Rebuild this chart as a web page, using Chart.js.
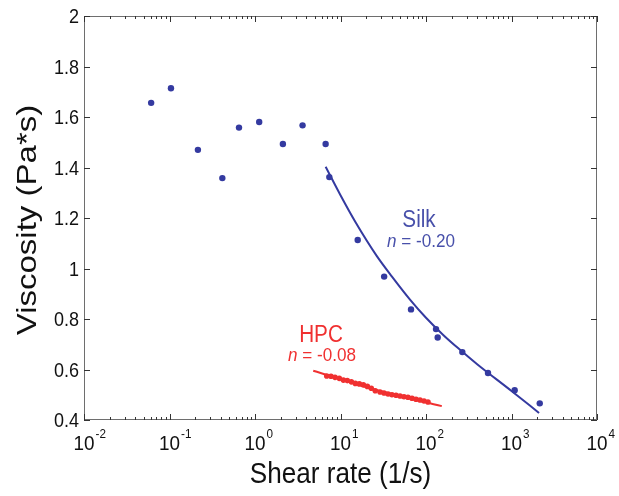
<!DOCTYPE html>
<html>
<head>
<meta charset="utf-8">
<script src="https://cdn.jsdelivr.net/npm/chart.js@4"></script>
<style>
  html, body { margin: 0; padding: 0; background: #fff; }
  #wrap { width: 619px; height: 496px; }
</style>
</head>
<body>
<div id="wrap"><canvas id="c" width="619" height="496"></canvas></div>
<script>
/* viscosity vs shear rate, silk and HPC */

// measured points
const silkRate = [0.061, 0.104, 0.215, 0.415, 0.65, 1.12, 2.12, 3.6, 6.7, 7.4, 15.9, 32.4, 66.8, 131, 137, 266, 531, 1089, 2140];
const silkVisc = [1.656, 1.714, 1.470, 1.358, 1.558, 1.580, 1.493, 1.567, 1.493, 1.362, 1.113, 0.968, 0.838, 0.760, 0.727, 0.669, 0.586, 0.518, 0.466];

const hpcRate = [6.90, 7.74, 8.63, 9.68, 10.8, 12.0, 13.4, 14.9, 16.6, 18.5, 20.6, 22.9, 25.5, 29.0, 32.3, 36.0,
  40.0, 44.6, 49.7, 55.3, 61.5, 68.6, 76.4, 85.1, 94.8, 105.5];
const hpcVisc = [0.574, 0.573, 0.569, 0.565, 0.558, 0.556, 0.551, 0.545, 0.543, 0.539, 0.533, 0.526, 0.516, 0.511, 0.507, 0.503,
  0.500, 0.498, 0.495, 0.492, 0.490, 0.486, 0.482, 0.479, 0.475, 0.471];

// power-law fit curves
const silkFitRate = [6.7, 10, 15, 26.5, 40, 65, 100, 159, 250, 400, 1000, 2100];
const silkFitVisc = [1.403, 1.29, 1.183, 1.050, 0.968, 0.877, 0.805, 0.737, 0.678, 0.620, 0.515, 0.428];
const hpcFitRate = [4.8, 27, 153];
const hpcFitVisc = [0.595, 0.518, 0.455];

// axes
const xTickVals = [0.01, 0.1, 1, 10, 100, 1000, 10000];
const xTickExps = ['-2', '-1', '0', '1', '2', '3', '4'];
const yTickVals = [0.4, 0.6, 0.8, 1, 1.2, 1.4, 1.6, 1.8, 2];
const yTickLabels = ['0.4', '0.6', '0.8', '1', '1.2', '1.4', '1.6', '1.8', '2'];

const BLUE = 'rgb(52, 58, 160)';
const BLUE_TXT = 'rgb(72, 80, 170)';
const RED = 'rgb(240, 48, 48)';
const FONT = '"Liberation Sans", Arial, Helvetica, sans-serif';
const SX = 0.9; // the figure is a bit narrow horizontally

const pts = (xs, ys) => xs.map((x, i) => ({ x, y: ys[i] }));

// text with a slight horizontal squeeze
function txt(ctx, s, x, y, size, color, align, style) {
  ctx.save();
  ctx.translate(x, y);
  ctx.scale(SX, 1);
  ctx.font = `${style || ''} ${size}px ${FONT}`;
  ctx.fillStyle = color;
  ctx.textAlign = align || 'left';
  ctx.textBaseline = 'alphabetic';
  ctx.fillText(s, 0, 0);
  ctx.restore();
}

// "n = -0.20" with italic n, right edge at x
function nLabel(ctx, value, x, y, size, color) {
  ctx.save();
  ctx.font = `${size}px ${FONT}`;
  const rest = ' = ' + value;
  const wRest = ctx.measureText(rest).width * SX;
  ctx.font = `italic ${size}px ${FONT}`;
  const wN = ctx.measureText('n').width * SX;
  ctx.restore();
  const x0 = x - wRest - wN;
  txt(ctx, 'n', x0, y, size, color, 'left', 'italic');
  txt(ctx, rest, x0 + wN, y, size, color, 'left');
}

const frame = {
  id: 'frame',
  afterDraw(chart) {
    const { ctx, chartArea: a, scales: { x, y } } = chart;
    ctx.save();
    ctx.strokeStyle = '#6e6e6e';
    ctx.lineWidth = 1;
    ctx.strokeRect(a.left + 0.5, a.top + 0.5, a.right - a.left - 1, a.bottom - a.top - 1);

    ctx.strokeStyle = '#333';
    ctx.beginPath();
    // x ticks, inward, top and bottom
    xTickVals.forEach((v, i) => {
      const px = Math.round(x.getPixelForValue(v)) + 0.5;
      ctx.moveTo(px, a.bottom); ctx.lineTo(px, a.bottom - 6);
      ctx.moveTo(px, a.top); ctx.lineTo(px, a.top + 6);
      if (i < xTickVals.length - 1) {
        for (let m = 2; m <= 9; m++) {
          const q = Math.round(x.getPixelForValue(v * m)) + 0.5;
          ctx.moveTo(q, a.bottom); ctx.lineTo(q, a.bottom - 3);
          ctx.moveTo(q, a.top); ctx.lineTo(q, a.top + 3);
        }
      }
    });
    // y ticks, inward, left and right
    yTickVals.forEach(v => {
      const py = Math.round(y.getPixelForValue(v)) + 0.5;
      ctx.moveTo(a.left, py); ctx.lineTo(a.left + 6, py);
      ctx.moveTo(a.right, py); ctx.lineTo(a.right - 6, py);
    });
    ctx.stroke();
    ctx.restore();

    // tick labels
    yTickVals.forEach((v, i) => {
      txt(ctx, yTickLabels[i], a.left - 5, y.getPixelForValue(v) + 7, 20, '#111', 'right');
    });
    xTickVals.forEach((v, i) => {
      const px = x.getPixelForValue(v);
      ctx.save();
      ctx.font = `21px ${FONT}`;
      const w = ctx.measureText('10').width * SX;
      ctx.restore();
      txt(ctx, '10', px - w / 2, a.bottom + 30, 21, '#111', 'left');
      txt(ctx, xTickExps[i], px + w / 2 + 1, a.bottom + 18, 13, '#111', 'left');
    });

    // axis titles
    txt(ctx, 'Shear rate (1/s)', (a.left + a.right) / 2, 483, 29, '#111', 'center');
    ctx.save();
    ctx.translate(36, (a.top + a.bottom) / 2 + 2);
    ctx.rotate(-Math.PI / 2);
    ctx.scale(1, 0.85);
    ctx.font = `33px ${FONT}`;
    ctx.fillStyle = '#111';
    ctx.textAlign = 'center';
    ctx.fillText('Viscosity (Pa*s)', 0, 0);
    ctx.restore();

    // annotations
    txt(ctx, 'Silk', 419, 227, 23, BLUE_TXT, 'center');
    nLabel(ctx, '-0.20', 455, 247, 19, BLUE_TXT);
    txt(ctx, 'HPC', 321, 342, 23, RED, 'center');
    nLabel(ctx, '-0.08', 356, 361, 19, RED);
  }
};

new Chart(document.getElementById('c'), {
  type: 'scatter',
  data: {
    datasets: [
      { data: pts(hpcFitRate, hpcFitVisc), showLine: true, borderColor: RED, borderWidth: 2, pointRadius: 0, tension: 0.3, order: 4 },
      { data: pts(hpcRate, hpcVisc), backgroundColor: RED, borderWidth: 0, pointRadius: 2.8, order: 3 },
      { data: pts(silkFitRate, silkFitVisc), showLine: true, borderColor: BLUE, borderWidth: 2, pointRadius: 0, cubicInterpolationMode: 'monotone', order: 2 },
      { data: pts(silkRate, silkVisc), backgroundColor: BLUE, borderWidth: 0, pointRadius: 3.2, order: 1 },
    ],
  },
  options: {
    responsive: false,
    animation: false,
    devicePixelRatio: 1,
    layout: { padding: { left: 84, right: 22, top: 16, bottom: 76 } },
    plugins: { legend: { display: false }, tooltip: { enabled: false } },
    scales: {
      x: { type: 'logarithmic', min: 0.01, max: 10000, display: false },
      y: { type: 'linear', min: 0.4, max: 2, display: false },
    },
  },
  plugins: [frame],
});
</script>
</body>
</html>
